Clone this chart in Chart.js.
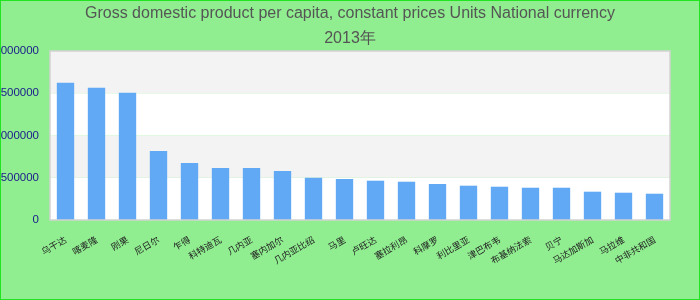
<!DOCTYPE html>
<html>
<head>
<meta charset="utf-8">
<title>GDP per capita 2013</title>
<script src="https://cdn.jsdelivr.net/npm/chart.js@4/dist/chart.umd.min.js"></script>
<style>
    body { margin: 0; }
    #chartBox { width: 700px; height: 300px; }
</style>
</head>
<body>
<div id="chartBox"><canvas id="gdpChart" width="700" height="300"></canvas></div>
<script>
// valores (moeda nacional, 2013)
var paises = ['乌干达', '喀麦隆', '刚果', '尼日尔', '乍得', '科特迪瓦', '几内亚', '塞内加尔', '几内亚比绍', '马里',
    '卢旺达', '塞拉利昂', '科摩罗', '利比里亚', '津巴布韦', '布基纳法索', '贝宁', '马达加斯加', '马拉维', '中非共和国'];
var valores = [1625000, 1566000, 1507000, 817000, 675000, 615000, 615000, 580000, 500000, 485000,
    465000, 453000, 426000, 406000, 394000, 382000, 382000, 335000, 323000, 311000];
var yTicks = [0, 500000, 1000000, 1500000, 2000000];
var titulo = ['Gross domestic product per capita, constant prices Units National currency', '2013年'];

// fundo verde, faixas alternadas e borda da area do grafico
var fundoPlugin = {
    id: 'fundo',
    beforeDraw: function(chart) {
        var ctx = chart.ctx;
        ctx.save();
        ctx.fillStyle = '#90ee90';
        ctx.fillRect(0, 0, chart.width, chart.height);
        ctx.strokeStyle = '#22e522';
        ctx.lineWidth = 1;
        ctx.strokeRect(0.5, 0.5, chart.width - 1, chart.height - 1);
        ctx.restore();
    },
    beforeDatasetsDraw: function(chart) {
        var ctx = chart.ctx;
        var area = chart.chartArea;
        var y = chart.scales.y;
        ctx.save();
        for (var i = 0; i < yTicks.length - 1; i++) {
            var top = y.getPixelForValue(yTicks[i + 1]);
            var bottom = y.getPixelForValue(yTicks[i]);
            ctx.fillStyle = (i % 2 === 0) ? '#ffffff' : '#f3f3f3';
            ctx.fillRect(area.left, top, area.right - area.left, bottom - top);
        }
        ctx.restore();
    },
    afterDatasetsDraw: function(chart) {
        var ctx = chart.ctx;
        var area = chart.chartArea;
        ctx.save();
        ctx.strokeStyle = '#d2d2d2';
        ctx.lineWidth = 1.5;
        ctx.strokeRect(area.left, area.top, area.right - area.left, area.bottom - area.top);
        ctx.restore();
    }
};

new Chart(document.getElementById('gdpChart'), {
    type: 'bar',
    data: {
        labels: paises,
        datasets: [{
            label: 'GDP per capita',
            data: valores,
            backgroundColor: '#62a9f5',
            borderWidth: 0,
            categoryPercentage: 1,
            barPercentage: 0.56
        }]
    },
    options: {
        responsive: false,
        animation: false,
        devicePixelRatio: 1,
        plugins: {
            legend: { display: false },
            tooltip: { enabled: false },
            title: {
                display: true,
                text: titulo,
                color: '#555555',
                font: { family: 'Liberation Sans, Arial, sans-serif', size: 16, weight: 'normal', lineHeight: '25px' },
                padding: { top: 1, bottom: 0 }
            }
        },
        scales: {
            x: {
                grid: { display: false },
                border: { display: false },
                ticks: {
                    autoSkip: false,
                    minRotation: 30,
                    maxRotation: 30,
                    padding: 6,
                    color: '#222222',
                    font: { family: 'Noto Sans CJK SC, sans-serif', size: 9 }
                },
                afterFit: function(scale) { scale.height = 80; }
            },
            y: {
                min: 0,
                max: 2000000,
                grid: { display: false },
                border: { display: false },
                ticks: {
                    stepSize: 500000,
                    padding: 3,
                    color: '#1a1a8c',
                    font: { family: 'Liberation Sans, Arial, sans-serif', size: 11.5 },
                    callback: function(v) { return String(v); }
                },
                afterFit: function(scale) { scale.width = 50; }
            },
            // eixo vazio a direita, so para deixar a margem e manter o titulo centrado
            margem: {
                type: 'linear',
                position: 'right',
                grid: { display: false },
                border: { display: false },
                ticks: { display: false },
                afterFit: function(scale) { scale.width = 30; }
            }
        }
    },
    plugins: [fundoPlugin]
});
</script>
</body>
</html>
